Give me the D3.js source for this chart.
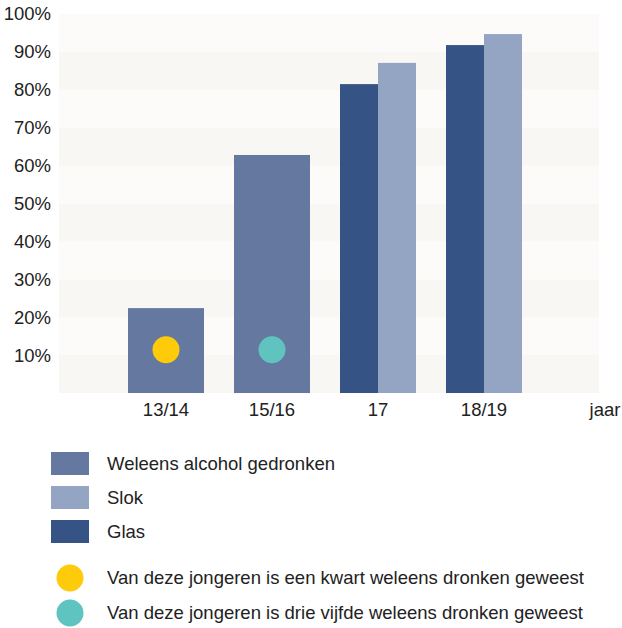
<!DOCTYPE html>
<html>
<head>
<meta charset="utf-8">
<script src="https://cdn.jsdelivr.net/npm/d3@7"></script>
<style>
  body { margin: 0; background: #fff; }
  text { font-family: "Liberation Sans", Arial, sans-serif; fill: #222; }
</style>
</head>
<body>
<div id="chart"></div>
<script>
// data
var categories = ["13/14", "15/16", "17", "18/19"];
var weleensCats = ["13/14", "15/16"];
var weleens = [22.4, 62.8];
var pairCats = ["17", "18/19"];
var glas = [81.5, 91.8];
var slok = [87.1, 94.7];
var dotCats = ["13/14", "15/16"];
var dotLevel = [11.4, 11.4];
var yTicks = [10, 20, 30, 40, 50, 60, 70, 80, 90, 100];
var legendBars = ["Weleens alcohol gedronken", "Slok", "Glas"];
var legendDots = [
  "Van deze jongeren is een kwart weleens dronken geweest",
  "Van deze jongeren is drie vijfde weleens dronken geweest"
];

(function() {
  var width = 622, height = 628;
  var fs = 18.5;
  var colors = { weleens: "#65789f", slok: "#94a4c3", glas: "#355485" };
  var dotColors = ["#fecb0a", "#5fc3bf"];

  var svg = d3.select("#chart").append("svg")
    .attr("width", width)
    .attr("height", height);

  var plotLeft = 59, plotRight = 599;
  var y = d3.scaleLinear().domain([0, 100]).range([393, 14]);
  var x = d3.scaleBand().domain(categories).range([113, 537])
    .paddingInner(0.283).paddingOuter(0.1415);

  // alternating background bands
  var bands = d3.range(0, 100, 10);
  svg.selectAll(".band")
    .data(bands)
    .enter().append("rect")
    .attr("x", plotLeft)
    .attr("width", plotRight - plotLeft)
    .attr("y", function(d) { return y(d + 10); })
    .attr("height", function(d) { return y(d) - y(d + 10); })
    .attr("fill", function(d) { return (d / 10) % 2 === 0 ? "#f8f7f3" : "#fcfbf9"; });

  // single bars
  svg.selectAll(".weleens")
    .data(weleens)
    .enter().append("rect")
    .attr("x", function(d, i) { return x(weleensCats[i]); })
    .attr("width", x.bandwidth())
    .attr("y", function(d) { return y(d); })
    .attr("height", function(d) { return y(0) - y(d); })
    .attr("fill", colors.weleens);

  // paired bars
  var half = x.bandwidth() / 2;
  svg.selectAll(".glas")
    .data(glas)
    .enter().append("rect")
    .attr("x", function(d, i) { return x(pairCats[i]); })
    .attr("width", half)
    .attr("y", function(d) { return y(d); })
    .attr("height", function(d) { return y(0) - y(d); })
    .attr("fill", colors.glas);

  svg.selectAll(".slok")
    .data(slok)
    .enter().append("rect")
    .attr("x", function(d, i) { return x(pairCats[i]) + half; })
    .attr("width", half)
    .attr("y", function(d) { return y(d); })
    .attr("height", function(d) { return y(0) - y(d); })
    .attr("fill", colors.slok);

  // dots inside the bars
  svg.selectAll(".dot")
    .data(dotLevel)
    .enter().append("circle")
    .attr("cx", function(d, i) { return x(dotCats[i]) + x.bandwidth() / 2; })
    .attr("cy", function(d) { return y(d); })
    .attr("r", 13.5)
    .attr("fill", function(d, i) { return dotColors[i]; });

  // y axis
  var yAxis = svg.append("g")
    .attr("transform", "translate(51,0)")
    .call(d3.axisLeft(y).tickValues(yTicks).tickSize(0).tickPadding(0)
      .tickFormat(function(d) { return d + "%"; }));
  yAxis.select(".domain").remove();
  yAxis.selectAll("text")
    .attr("font-size", fs)
    .attr("font-family", null)
    .style("fill", "#222");

  // x axis
  var xAxis = svg.append("g")
    .attr("transform", "translate(0,410)")
    .call(d3.axisBottom(x).tickSize(0).tickPadding(0));
  xAxis.select(".domain").remove();
  xAxis.selectAll("text")
    .attr("dy", "0.35em")
    .attr("font-size", fs)
    .attr("font-family", null)
    .style("fill", "#222");

  svg.append("text")
    .attr("x", 605)
    .attr("y", 410)
    .attr("dy", "0.35em")
    .attr("text-anchor", "middle")
    .attr("font-size", fs)
    .text("jaar");

  // legend: bars
  var barColors = [colors.weleens, colors.slok, colors.glas];
  var lb = svg.selectAll(".lbar")
    .data(legendBars)
    .enter().append("g")
    .attr("transform", function(d, i) { return "translate(51," + (452 + i * 34) + ")"; });
  lb.append("rect")
    .attr("width", 38)
    .attr("height", 23)
    .attr("fill", function(d, i) { return barColors[i]; });
  lb.append("text")
    .attr("x", 56)
    .attr("y", 11.5)
    .attr("dy", "0.35em")
    .attr("font-size", fs)
    .text(function(d) { return d; });

  // legend: dots
  var ld = svg.selectAll(".ldot")
    .data(legendDots)
    .enter().append("g")
    .attr("transform", function(d, i) { return "translate(70," + (578 + i * 35) + ")"; });
  ld.append("circle")
    .attr("r", 13.5)
    .attr("fill", function(d, i) { return dotColors[i]; });
  ld.append("text")
    .attr("x", 37)
    .attr("dy", "0.35em")
    .attr("font-size", fs)
    .text(function(d) { return d; });
})();
</script>
</body>
</html>
